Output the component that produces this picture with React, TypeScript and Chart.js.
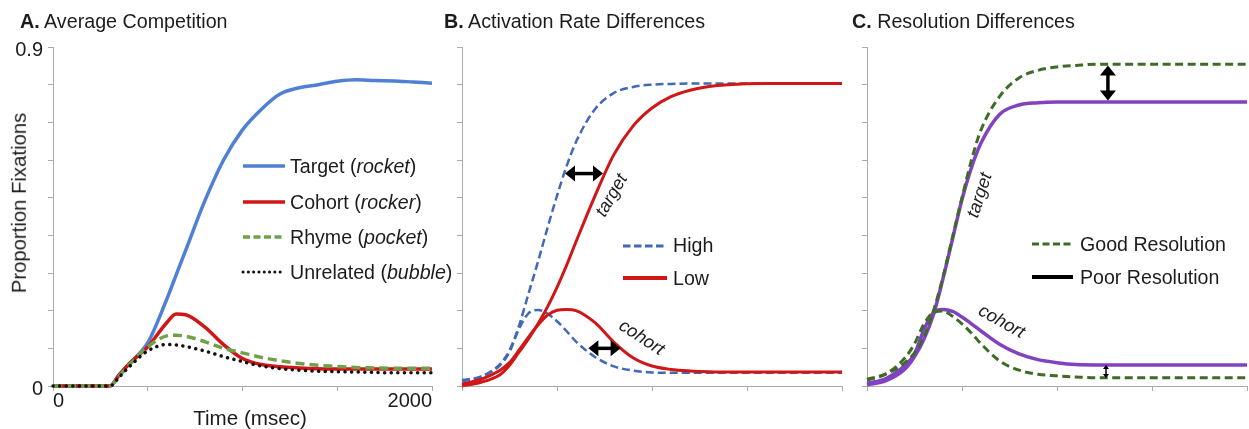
import React, { useEffect, useRef } from "react";
import { Chart, registerables } from "chart.js";

Chart.register(...registerables);

const FONT = '"Liberation Sans", Arial, Helvetica, sans-serif';
const TEXT = "#1c1c1c";
const AXIS = "#ababab";

// ---------- Panel A: Average Competition ----------
const timeA = [0, 300, 350, 400, 500, 600, 650, 700, 800, 900, 1000, 1100, 1200, 1300, 1400, 1500, 1600, 1700, 1800, 1900, 2000];
const targetA = [0, 0, 0.03, 0.058, 0.115, 0.23, 0.295, 0.36, 0.49, 0.6, 0.68, 0.735, 0.776, 0.792, 0.8, 0.809, 0.813, 0.811, 0.81, 0.807, 0.804];
const cohortA = [0, 0, 0.03, 0.058, 0.104, 0.168, 0.191, 0.189, 0.157, 0.11, 0.073, 0.057, 0.051, 0.048, 0.046, 0.045, 0.045, 0.045, 0.045, 0.045, 0.045];
const rhymeA = [0, 0, 0.027, 0.055, 0.104, 0.133, 0.135, 0.132, 0.118, 0.1, 0.088, 0.076, 0.067, 0.06, 0.055, 0.052, 0.049, 0.048, 0.047, 0.047, 0.047];
const unrelatedA = [0, 0, 0.024, 0.05, 0.093, 0.11, 0.109, 0.105, 0.093, 0.078, 0.065, 0.053, 0.046, 0.042, 0.039, 0.038, 0.037, 0.036, 0.035, 0.035, 0.035];
const legendNamesA = ["Target", "Cohort", "Rhyme", "Unrelated"];
const legendWordsA = ["rocket", "rocker", "pocket", "bubble"];

// ---------- Panels B and C share a time grid ----------
const timeBC = [0, 100, 200, 250, 300, 350, 400, 450, 500, 550, 600, 700, 800, 900, 1000, 1100, 1200, 1300, 1400, 1600, 1800, 2000];

// Panel B: Activation Rate Differences
const highTargetB = [0.012, 0.025, 0.058, 0.095, 0.16, 0.245, 0.33, 0.42, 0.505, 0.583, 0.648, 0.735, 0.778, 0.794, 0.8, 0.802, 0.803, 0.803, 0.803, 0.803, 0.803, 0.803];
const lowTargetB = [0, 0.01, 0.03, 0.055, 0.09, 0.125, 0.165, 0.21, 0.262, 0.32, 0.383, 0.505, 0.615, 0.69, 0.738, 0.768, 0.785, 0.795, 0.8, 0.803, 0.803, 0.803];
const highCohortB = [0.016, 0.025, 0.055, 0.09, 0.152, 0.193, 0.202, 0.192, 0.172, 0.146, 0.118, 0.077, 0.052, 0.041, 0.036, 0.035, 0.035, 0.035, 0.035, 0.035, 0.035, 0.035];
const lowCohortB = [0.005, 0.018, 0.042, 0.062, 0.095, 0.13, 0.162, 0.188, 0.201, 0.203, 0.2, 0.168, 0.116, 0.075, 0.053, 0.044, 0.04, 0.038, 0.037, 0.037, 0.037, 0.037];
const legendB = ["High", "Low"];

// Panel C: Resolution Differences
const goodTargetC = [0.018, 0.032, 0.062, 0.088, 0.13, 0.2, 0.29, 0.395, 0.5, 0.6, 0.68, 0.77, 0.818, 0.838, 0.847, 0.851, 0.854, 0.854, 0.854, 0.854, 0.854, 0.854];
const poorTargetC = [0.003, 0.014, 0.045, 0.078, 0.125, 0.19, 0.285, 0.39, 0.495, 0.58, 0.645, 0.722, 0.746, 0.752, 0.754, 0.754, 0.754, 0.754, 0.754, 0.754, 0.754, 0.754];
const goodCohortC = [0.016, 0.032, 0.075, 0.112, 0.165, 0.195, 0.199, 0.185, 0.165, 0.14, 0.112, 0.066, 0.042, 0.031, 0.027, 0.024, 0.022, 0.022, 0.022, 0.022, 0.022, 0.022];
const poorCohortC = [0.007, 0.02, 0.055, 0.085, 0.15, 0.195, 0.203, 0.198, 0.183, 0.165, 0.146, 0.11, 0.085, 0.07, 0.062, 0.057, 0.056, 0.056, 0.056, 0.056, 0.056, 0.056];
const legendC = ["Good Resolution", "Poor Resolution"];

// Difference arrows (in data units: time, proportion)
const arrowsB = [
  { x1: 542, y1: 0.564, x2: 742, y2: 0.564, small: false },
  { x1: 665, y1: 0.1, x2: 835, y2: 0.1, small: false },
];
const arrowsC = [
  { x1: 1268, y1: 0.851, x2: 1268, y2: 0.758, small: false },
  { x1: 1258, y1: 0.056, x2: 1258, y2: 0.021, small: true },
];

type Arrow = { x1: number; y1: number; x2: number; y2: number; small: boolean };
type Series = { data: number[]; color: string; width: number; dash?: number[]; cap?: CanvasLineCap };

const BLUE_A = "#4f80d6";
const RED = "#d01616";
const GREEN_A = "#6fa14a";
const BLUE_B = "#4069b6";
const GREEN_C = "#3f6b27";
const PURPLE = "#8142c2";

function arrowPlugin(arrows: Arrow[]) {
  return {
    id: "diffArrows",
    afterDatasetsDraw(chart: any) {
      const { ctx } = chart;
      const xs = chart.scales.x;
      const ys = chart.scales.y;
      ctx.save();
      ctx.fillStyle = "#000";
      ctx.strokeStyle = "#000";
      arrows.forEach((a) => {
        const x1 = xs.getPixelForValue(a.x1);
        const y1 = ys.getPixelForValue(a.y1);
        const x2 = xs.getPixelForValue(a.x2);
        const y2 = ys.getPixelForValue(a.y2);
        const head = a.small ? 4 : 10;
        const half = a.small ? 3 : 8;
        const lw = a.small ? 1.5 : 3.5;
        const dx = x2 - x1;
        const dy = y2 - y1;
        const len = Math.hypot(dx, dy);
        const ux = dx / len;
        const uy = dy / len;
        ctx.lineWidth = lw;
        ctx.beginPath();
        ctx.moveTo(x1 + ux * head * 0.8, y1 + uy * head * 0.8);
        ctx.lineTo(x2 - ux * head * 0.8, y2 - uy * head * 0.8);
        ctx.stroke();
        const drawHead = (tx: number, ty: number, dirx: number, diry: number) => {
          const bx = tx - dirx * head;
          const by = ty - diry * head;
          ctx.beginPath();
          ctx.moveTo(tx, ty);
          ctx.lineTo(bx - diry * half, by + dirx * half);
          ctx.lineTo(bx + diry * half, by - dirx * half);
          ctx.closePath();
          ctx.fill();
        };
        drawHead(x2, y2, ux, uy);
        drawHead(x1, y1, -ux, -uy);
      });
      ctx.restore();
    },
  };
}

function ChartPanel(props: {
  left: number;
  width: number;
  yWidth: number;
  padRight: number;
  times: number[];
  series: Series[];
  showLabels: boolean;
  arrows: Arrow[];
}) {
  const ref = useRef<HTMLCanvasElement>(null);
  useEffect(() => {
    const { times, series, showLabels, arrows, yWidth, padRight } = props;
    const chart = new Chart(ref.current as HTMLCanvasElement, {
      type: "line",
      data: {
        datasets: series.map((s) => ({
          data: times.map((t, i) => ({ x: t, y: s.data[i] })),
          borderColor: s.color,
          borderWidth: s.width,
          borderDash: s.dash ?? [],
          borderCapStyle: s.cap ?? "butt",
          borderJoinStyle: "round",
          pointRadius: 0,
          fill: false,
          cubicInterpolationMode: "monotone",
          clip: false,
        })) as any,
      },
      options: {
        animation: false,
        responsive: false,
        events: [],
        layout: { padding: { left: 0, top: 47, right: padRight, bottom: 0 } },
        plugins: { legend: { display: false }, tooltip: { enabled: false } },
        scales: {
          x: {
            type: "linear",
            min: 0,
            max: 2000,
            ticks: {
              stepSize: 500,
              display: showLabels,
              autoSkip: false,
              maxRotation: 0,
              align: "inner",
              padding: 0,
              color: TEXT,
              font: { size: 20, family: FONT, lineHeight: 1 },
              callback: (v: any) => (v === 0 ? "0" : v === 2000 ? "2000" : ""),
            },
            grid: { display: true, drawOnChartArea: false, drawTicks: true, tickLength: 5, color: AXIS },
            border: { display: true, color: AXIS, width: 1 },
            afterFit: (s: any) => {
              s.height = 43;
            },
          },
          y: {
            type: "linear",
            min: 0,
            max: 0.9,
            ticks: {
              stepSize: 0.1,
              display: showLabels,
              padding: 5,
              labelOffset: 3,
              color: TEXT,
              font: { size: 20, family: FONT, lineHeight: 1 },
              callback: (v: any) => (Math.abs(v - 0.9) < 1e-6 ? "0.9" : Math.abs(v) < 1e-6 ? "0" : ""),
            },
            grid: { display: true, drawOnChartArea: false, drawTicks: true, tickLength: 5, color: AXIS },
            border: { display: true, color: AXIS, width: 1 },
            afterFit: (s: any) => {
              s.width = yWidth;
            },
          },
        },
      },
      plugins: [arrowPlugin(arrows)],
    } as any);
    return () => chart.destroy();
  }, []);
  return (
    <canvas
      ref={ref}
      width={props.width}
      height={429}
      style={{ position: "absolute", left: props.left, top: 0, width: props.width, height: 429 }}
    />
  );
}

function Txt(props: { x: number; baseline: number; size: number; children: any; style?: any }) {
  const { x, baseline, size, children, style } = props;
  return (
    <div
      style={{
        position: "absolute",
        left: x,
        top: baseline - 0.8465 * size,
        fontSize: size,
        lineHeight: `${size}px`,
        fontFamily: FONT,
        whiteSpace: "nowrap",
        color: TEXT,
        ...style,
      }}
    >
      {children}
    </div>
  );
}

function Rotated(props: { cx: number; cy: number; deg: number; size: number; children: any; italic?: boolean }) {
  return (
    <div
      style={{
        position: "absolute",
        left: props.cx,
        top: props.cy,
        transform: `translate(-50%, -50%) rotate(${props.deg}deg)`,
        fontSize: props.size,
        lineHeight: `${props.size}px`,
        fontFamily: FONT,
        fontStyle: props.italic ? "italic" : "normal",
        whiteSpace: "nowrap",
        color: TEXT,
      }}
    >
      {props.children}
    </div>
  );
}

function Swatch(props: { x1: number; x2: number; y: number; color: string; width: number; dash?: string; cap?: string }) {
  const w = props.x2 - props.x1;
  return (
    <svg
      width={w}
      height={12}
      style={{ position: "absolute", left: props.x1, top: props.y - 6, overflow: "visible" }}
    >
      <line
        x1={0}
        y1={6}
        x2={w}
        y2={6}
        stroke={props.color}
        strokeWidth={props.width}
        strokeDasharray={props.dash}
        strokeLinecap={(props.cap as any) ?? "butt"}
      />
    </svg>
  );
}

export default function App() {
  const seriesA: Series[] = [
    { data: unrelatedA, color: "#111", width: 3.5, dash: [0.1, 6.5], cap: "round" },
    { data: rhymeA, color: GREEN_A, width: 3.5, dash: [9, 5] },
    { data: cohortA, color: RED, width: 3.5 },
    { data: targetA, color: BLUE_A, width: 3.5 },
  ];
  const seriesB: Series[] = [
    { data: lowTargetB, color: RED, width: 3 },
    { data: lowCohortB, color: RED, width: 3 },
    { data: highTargetB, color: BLUE_B, width: 2.5, dash: [8, 4] },
    { data: highCohortB, color: BLUE_B, width: 2.5, dash: [8, 4] },
  ];
  const seriesC: Series[] = [
    { data: goodTargetC, color: GREEN_C, width: 3, dash: [8, 4.5] },
    { data: goodCohortC, color: GREEN_C, width: 3, dash: [8, 4.5] },
    { data: poorTargetC, color: PURPLE, width: 3.5 },
    { data: poorCohortC, color: PURPLE, width: 3.5 },
  ];

  const stylesA = [
    { color: BLUE_A, width: 3.5 },
    { color: RED, width: 3.5 },
    { color: GREEN_A, width: 3.5, dash: "7 3.5" },
    { color: "#111", width: 3, dash: "0.1 5.2", cap: "round" },
  ];
  const yA = [166, 202, 237, 272];

  return (
    <div
      style={{
        position: "absolute",
        left: 0,
        top: 0,
        width: 1249,
        height: 429,
        background: "#fff",
        overflow: "hidden",
      }}
    >
      <ChartPanel left={0} width={445} yWidth={53} padRight={13} times={timeA} series={seriesA} showLabels={true} arrows={[]} />
      <ChartPanel left={445} width={400} yWidth={17} padRight={3} times={timeBC} series={seriesB} showLabels={false} arrows={arrowsB} />
      <ChartPanel left={850} width={399} yWidth={17} padRight={2} times={timeBC} series={seriesC} showLabels={false} arrows={arrowsC} />

      {/* Titles */}
      <Txt x={20} baseline={29} size={19.7}>
        <b>A.</b> Average Competition
      </Txt>
      <Txt x={444} baseline={29} size={19.7}>
        <b>B.</b> Activation Rate Differences
      </Txt>
      <Txt x={852} baseline={29} size={19.7}>
        <b>C.</b> Resolution Differences
      </Txt>

      {/* Axis titles */}
      <Rotated cx={19} cy={203} deg={-90} size={20.3}>
        Proportion Fixations
      </Rotated>
      <Rotated cx={250} cy={418} deg={0} size={20.6}>
        Time (msec)
      </Rotated>

      {/* Legend A */}
      {legendNamesA.map((name, i) => (
        <React.Fragment key={name}>
          <Swatch x1={243} x2={285} y={yA[i]} {...(stylesA[i] as any)} />
          <Txt x={290} baseline={yA[i] + 7.5} size={19.6}>
            {name} (<i>{legendWordsA[i]}</i>)
          </Txt>
        </React.Fragment>
      ))}

      {/* Legend B */}
      <Swatch x1={623} x2={667} y={246} color={BLUE_B} width={3} dash="7.5 3.5" />
      <Txt x={673} baseline={253} size={19.6}>
        {legendB[0]}
      </Txt>
      <Swatch x1={623} x2={667} y={278} color={RED} width={4} />
      <Txt x={673} baseline={286} size={19.6}>
        {legendB[1]}
      </Txt>

      {/* Legend C */}
      <Swatch x1={1032} x2={1073} y={244} color={GREEN_C} width={3} dash="7 3.5" />
      <Txt x={1080} baseline={252} size={19.6}>
        {legendC[0]}
      </Txt>
      <Swatch x1={1032} x2={1073} y={277} color="#000" width={4} />
      <Txt x={1080} baseline={285} size={19.6}>
        {legendC[1]}
      </Txt>

      {/* Curve annotations */}
      <Rotated cx={611} cy={195} deg={-60} size={18} italic>
        target
      </Rotated>
      <Rotated cx={642} cy={337} deg={33} size={18} italic>
        cohort
      </Rotated>
      <Rotated cx={979} cy={195} deg={-72} size={18} italic>
        target
      </Rotated>
      <Rotated cx={1002} cy={321} deg={29} size={18} italic>
        cohort
      </Rotated>
    </div>
  );
}
